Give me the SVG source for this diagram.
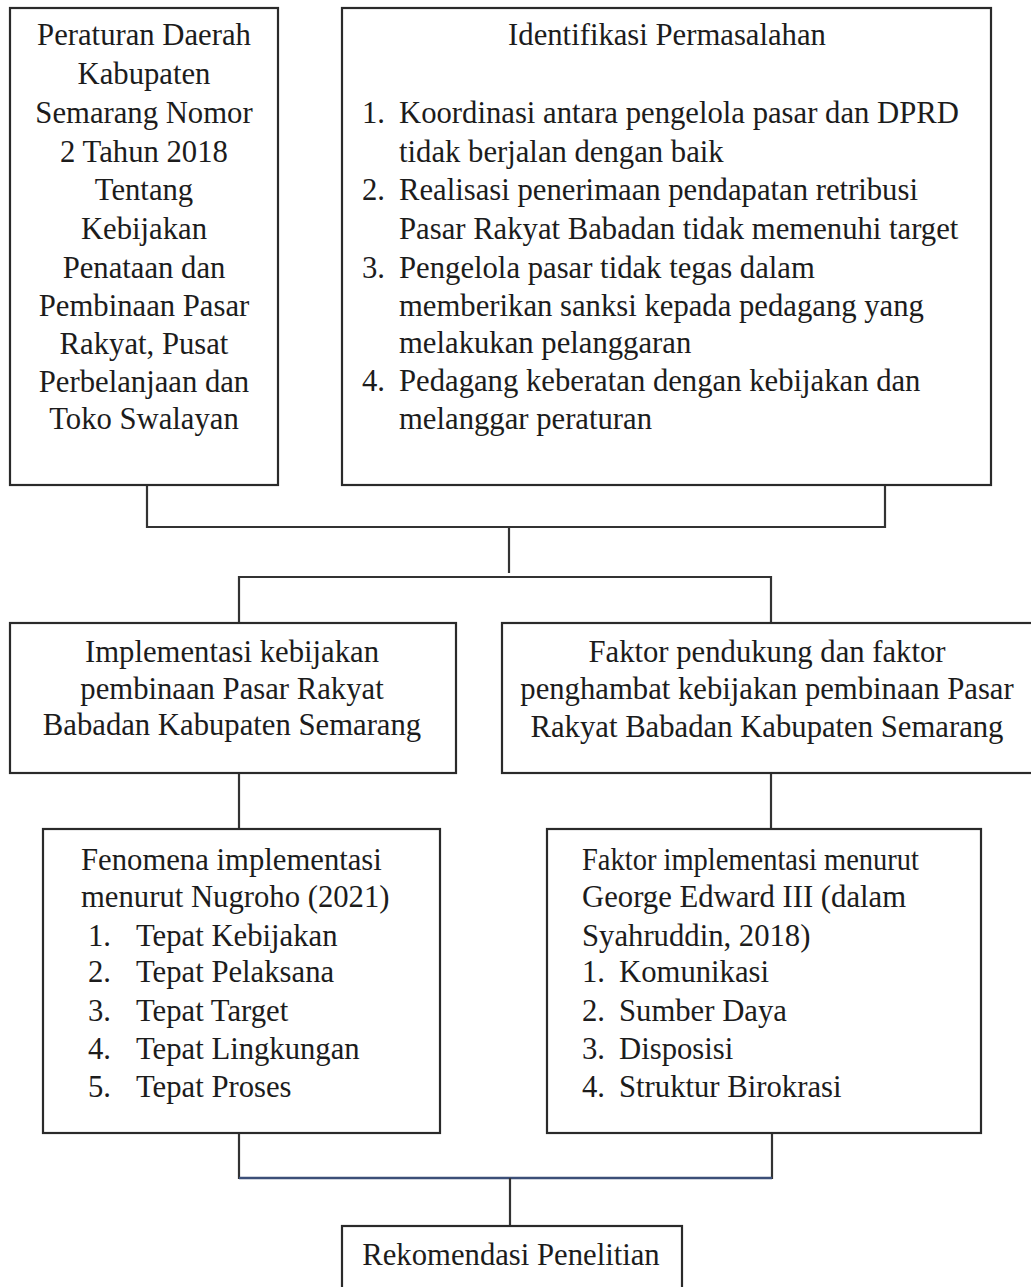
<svg xmlns="http://www.w3.org/2000/svg" width="1031" height="1287" viewBox="0 0 1031 1287">
<style>
.box{fill:#fff;stroke:#2a2a2a;stroke-width:2.2}
.ln{fill:none;stroke:#333;stroke-width:2.2}
text{font-family:"Liberation Serif","Times New Roman",serif;font-size:30.7px;fill:#1c1c1c}
.c{text-anchor:middle}
</style>
<rect width="1031" height="1287" fill="#fff"/>
<g id="connectors">
<polyline class="ln" points="147,485 147,527 885,527 885,485"/>
<line class="ln" x1="509" y1="527" x2="509" y2="573"/>
<polyline class="ln" points="239,622 239,577 771,577 771,622"/>
<line class="ln" x1="239" y1="773" x2="239" y2="829"/>
<line class="ln" x1="771" y1="773" x2="771" y2="829"/>
<polyline class="ln" points="239,1133 239,1178 772,1178 772,1133"/>
<line x1="239" y1="1178" x2="772" y2="1178" stroke="#3c4f78" stroke-width="2.4"/>
<line class="ln" x1="510" y1="1178" x2="510" y2="1226"/>
</g>
<g id="n1">
<rect class="box" x="10" y="8" width="268" height="477"/>
<text class="c" x="144" y="45">Peraturan Daerah</text>
<text class="c" x="144" y="84">Kabupaten</text>
<text class="c" x="144" y="123">Semarang Nomor</text>
<text class="c" x="144" y="162">2 Tahun 2018</text>
<text class="c" x="144" y="200">Tentang</text>
<text class="c" x="144" y="239">Kebijakan</text>
<text class="c" x="144" y="278">Penataan dan</text>
<text class="c" x="144" y="316">Pembinaan Pasar</text>
<text class="c" x="144" y="354">Rakyat, Pusat</text>
<text class="c" x="144" y="392">Perbelanjaan dan</text>
<text class="c" x="144" y="429">Toko Swalayan</text>
</g>
<g id="n2">
<rect class="box" x="342" y="8" width="649" height="477"/>
<text class="c" x="667" y="45">Identifikasi Permasalahan</text>
<text x="362" y="123">1.</text><text x="399" y="123">Koordinasi antara pengelola pasar dan DPRD</text>
<text x="399" y="162">tidak berjalan dengan baik</text>
<text x="362" y="200">2.</text><text x="399" y="200">Realisasi penerimaan pendapatan retribusi</text>
<text x="399" y="239">Pasar Rakyat Babadan tidak memenuhi target</text>
<text x="362" y="278">3.</text><text x="399" y="278">Pengelola pasar tidak tegas dalam</text>
<text x="399" y="316">memberikan sanksi kepada pedagang yang</text>
<text x="399" y="353">melakukan pelanggaran</text>
<text x="362" y="391">4.</text><text x="399" y="391">Pedagang keberatan dengan kebijakan dan</text>
<text x="399" y="429">melanggar peraturan</text>
</g>
<g id="n3">
<rect class="box" x="10" y="623" width="446" height="150"/>
<text class="c" x="232" y="662">Implementasi kebijakan</text>
<text class="c" x="232" y="699">pembinaan Pasar Rakyat</text>
<text class="c" x="232" y="735">Babadan Kabupaten Semarang</text>
</g>
<g id="n4">
<rect class="box" x="502" y="623" width="535" height="150"/>
<text class="c" x="767" y="662">Faktor pendukung dan faktor</text>
<text class="c" x="767" y="699">penghambat kebijakan pembinaan Pasar</text>
<text class="c" x="767" y="737">Rakyat Babadan Kabupaten Semarang</text>
</g>
<g id="n5">
<rect class="box" x="43" y="829" width="397" height="304"/>
<text x="81" y="870">Fenomena implementasi</text>
<text x="81" y="907">menurut Nugroho (2021)</text>
<text x="88" y="946">1.</text><text x="136" y="946">Tepat Kebijakan</text>
<text x="88" y="982">2.</text><text x="136" y="982">Tepat Pelaksana</text>
<text x="88" y="1021">3.</text><text x="136" y="1021">Tepat Target</text>
<text x="88" y="1059">4.</text><text x="136" y="1059">Tepat Lingkungan</text>
<text x="88" y="1097">5.</text><text x="136" y="1097">Tepat Proses</text>
</g>
<g id="n6">
<rect class="box" x="547" y="829" width="434" height="304"/>
<text x="582" y="870" textLength="337" lengthAdjust="spacingAndGlyphs">Faktor implementasi menurut</text>
<text x="582" y="907">George Edward III (dalam</text>
<text x="582" y="946">Syahruddin, 2018)</text>
<text x="582" y="982">1.</text><text x="619" y="982">Komunikasi</text>
<text x="582" y="1021">2.</text><text x="619" y="1021">Sumber Daya</text>
<text x="582" y="1059">3.</text><text x="619" y="1059">Disposisi</text>
<text x="582" y="1097">4.</text><text x="619" y="1097">Struktur Birokrasi</text>
</g>
<g id="n7">
<rect class="box" x="342" y="1226" width="340" height="80"/>
<text class="c" x="511" y="1265">Rekomendasi Penelitian</text>
</g>
</svg>
